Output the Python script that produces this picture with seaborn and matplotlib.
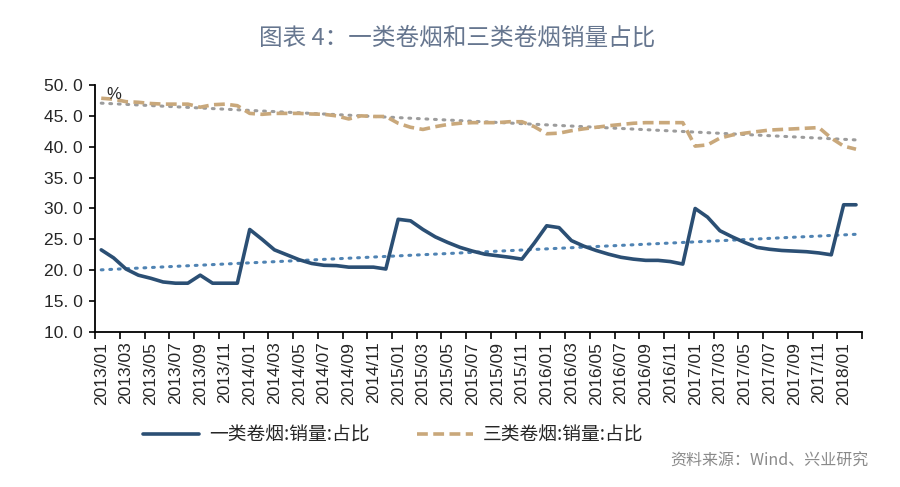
import numpy as np
import pandas as pd
import matplotlib
matplotlib.use("Agg")
import matplotlib.pyplot as plt
import seaborn as sns

months = [f"{y}/{m:02d}" for y in range(2013, 2019) for m in range(1, 13)][:62]

class1 = [23.3, 22.0, 20.2, 19.2, 18.7, 18.1, 17.9, 17.9, 19.2, 17.9, 17.9, 17.9,
          26.6, 25.0, 23.3, 22.5, 21.7, 21.1, 20.8, 20.75, 20.5, 20.5, 20.5, 20.2,
          28.25, 28.0, 26.6, 25.4, 24.5, 23.7, 23.1, 22.6, 22.35, 22.1, 21.8, 24.4,
          27.2, 26.9, 24.8, 23.9, 23.2, 22.6, 22.1, 21.8, 21.6, 21.6, 21.4, 21.0,
          30.0, 28.6, 26.4, 25.4, 24.5, 23.7, 23.4, 23.2, 23.1, 23.0, 22.8, 22.5,
          30.6, 30.6]

class3 = [47.85, 47.7, 47.3, 47.2, 47.0, 46.9, 46.9, 46.9, 46.4, 46.8, 46.9, 46.65,
          45.4, 45.25, 45.4, 45.4, 45.4, 45.3, 45.25, 45.0, 44.5, 45.0, 44.9, 44.9,
          43.8, 43.15, 42.8, 43.25, 43.6, 43.8, 43.9, 43.9, 43.9, 44.05, 44.05, 43.25,
          42.1, 42.2, 42.6, 42.9, 43.15, 43.4, 43.6, 43.8, 43.9, 43.9, 43.9, 43.9,
          40.1, 40.3, 41.4, 41.9, 42.2, 42.45, 42.7, 42.8, 42.9, 43.0, 43.1, 41.4,
          40.1, 39.6]

name1 = "一类卷烟:销量:占比"
name3 = "三类卷烟:销量:占比"
title = "图表 4：一类卷烟和三类卷烟销量占比"
source = "资料来源：Wind、兴业研究"
yticks = [10, 15, 20, 25, 30, 35, 40, 45, 50]
ytick_labels = ["10. 0", "15. 0", "20. 0", "25. 0", "30. 0", "35. 0", "40. 0", "45. 0", "50. 0"]

sns.set_style("ticks")
plt.rcParams['font.family'] = ['Liberation Sans', 'Noto Sans CJK SC', 'DejaVu Sans']

df = pd.DataFrame({"idx": np.arange(len(months)), "month": months,
                   name1: class1, name3: class3})

fig = plt.figure(figsize=(9, 4.87), dpi=100)
ax = fig.add_axes([0.1056, 0.3183, 0.8524, 0.5072])

c1 = "#2b4f74"
c3 = "#c9a87b"

sns.regplot(data=df, x="idx", y=name1, ax=ax, scatter=False, ci=None,
            line_kws=dict(color="#4f83b3", lw=2.2, ls=(0, (0.6, 2.2)), dash_capstyle="round"))
sns.regplot(data=df, x="idx", y=name3, ax=ax, scatter=False, ci=None,
            line_kws=dict(color="#9c9c9c", lw=2.2, ls=(0, (0.6, 2.2)), dash_capstyle="round"))
sns.lineplot(data=df, x="idx", y=name1, ax=ax, color=c1, lw=2.6, label=name1)
sns.lineplot(data=df, x="idx", y=name3, ax=ax, color=c3, lw=2.6, ls=(0, (3, 1.5)), label=name3)

ax.set_xlim(-0.5, len(months) - 0.5)
ax.set_ylim(10, 50)
ax.set_yticks(yticks)
ax.set_yticklabels(ytick_labels, fontsize=12.5)
ax.set_xticks(np.arange(0, len(months), 2))
ax.set_xticklabels(months[::2], rotation=90, fontsize=12.5)
ax.set_xticks(np.arange(-0.5, len(months), 2), minor=True)
ax.tick_params(axis="x", which="major", length=0, pad=7)
ax.tick_params(axis="x", which="minor", length=5, width=1.2, direction="out", color="black")
ax.tick_params(axis="y", length=4, width=1.2, direction="out", color="black", pad=5)
ax.set_xlabel("")
ax.set_ylabel("")
for s in ["top", "right"]:
    ax.spines[s].set_visible(False)
for s in ["left", "bottom"]:
    ax.spines[s].set_color("black")
    ax.spines[s].set_linewidth(1.3)

ax.text(0.015, 0.99, "%", transform=ax.transAxes, fontsize=12, va="top", ha="left")

leg = ax.legend(loc="upper left", bbox_to_anchor=(0.04, -0.305), ncol=2, frameon=False,
                handlelength=3.0, columnspacing=2.5, handletextpad=0.55,
                prop={"family": ["Noto Sans CJK SC"], "size": 13.5})

fig.text(0.508, 0.922, title, ha="center", va="center", fontsize=17, color="#66768f",
         family=["Noto Sans CJK SC"])
fig.text(0.965, 0.053, source, ha="right", va="center", fontsize=11.5, color="#8a8a8a",
         family=["Noto Sans CJK SC"])

fig.savefig("out.png", dpi=100, facecolor="white")
